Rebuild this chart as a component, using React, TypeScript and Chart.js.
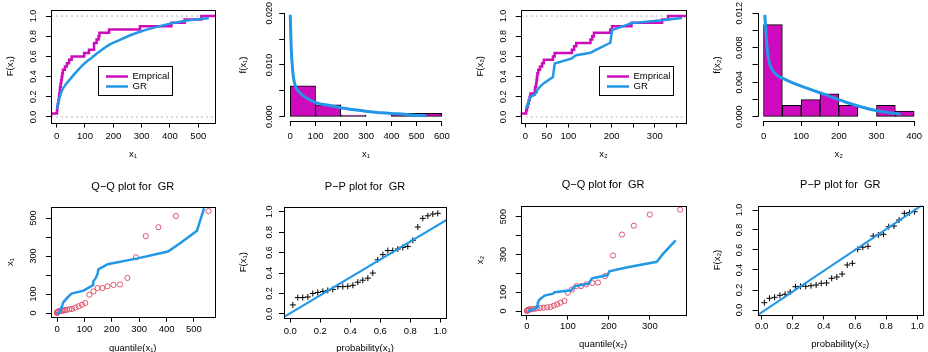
import React, { useEffect, useRef } from "react";
import { Chart, registerables } from "chart.js";

Chart.register(...registerables);

const FONT = "'Liberation Sans', Arial, Helvetica, sans-serif";
const MAGENTA = "#CD0BBC";
const BLUE = "#2297E6";
const RED = "#DF536B";
const GRAY = "#B3B3B3";
const TICK_LEN = 5;

// ---------------- data ----------------
const x1Sorted = [1, 2, 4, 6, 8, 9, 11, 12, 14, 16, 18, 20, 22, 29, 36, 44, 53, 97, 114, 132, 132, 141, 148, 151, 185, 294, 405, 452, 511, 537];
const x2Sorted = [2, 4, 6, 8, 10, 12, 22, 23, 25, 26, 27, 28, 30, 34, 39, 43, 64, 68, 108, 113, 118, 151, 155, 159, 197, 201, 246, 317, 331, 363];

const gr1CdfX = [1.5, 6, 10, 15, 20, 30, 40, 55, 75, 100, 125, 150, 185, 220, 260, 300, 350, 400, 450, 500, 537];
const gr1CdfY = [0.08, 0.15, 0.19, 0.235, 0.27, 0.315, 0.35, 0.4, 0.465, 0.535, 0.59, 0.645, 0.715, 0.76, 0.81, 0.85, 0.89, 0.925, 0.952, 0.968, 0.978];
const gr2CdfAtX2 = [0.08, 0.11, 0.13, 0.16, 0.18, 0.2, 0.22, 0.23, 0.245, 0.25, 0.26, 0.27, 0.28, 0.3, 0.32, 0.335, 0.395, 0.53, 0.58, 0.6, 0.612, 0.637, 0.645, 0.655, 0.735, 0.86, 0.93, 0.958, 0.965, 0.98];

const hist1Mid = [50, 150, 250, 350, 450, 550];
const hist1Density = [0.006, 0.002333, 0.000333, 0, 0.000667, 0.000667];
const hist2Mid = [25, 75, 125, 175, 225, 275, 325, 375];
const hist2Density = [0.010667, 0.001333, 0.002, 0.002667, 0.001333, 0, 0.001333, 0.000667];

const dens1X = [0, 2, 4, 8, 13, 20, 33, 53, 99, 165, 231, 297, 363, 429, 495, 538];
const dens1Y = [0.0197, 0.016, 0.0129, 0.0099, 0.0075, 0.006, 0.0049, 0.004, 0.0028, 0.0021, 0.0015, 0.0011, 0.00077, 0.00058, 0.00032, 0.0002];
const dens2X = [3.5, 7.8, 13, 21.7, 36.5, 54, 84, 128, 171, 215, 258, 302, 345, 364];
const dens2Y = [0.0118, 0.00888, 0.00674, 0.00557, 0.00479, 0.0044, 0.00382, 0.00312, 0.00245, 0.00175, 0.00117, 0.0007, 0.00043, 0.00031];

const qq1Theory = [0, 0.3, 0.8, 1.5, 3, 6, 12, 18, 24, 30, 36, 45, 55, 67, 79, 91, 103, 118, 133, 148, 166, 184, 206, 230, 257, 288, 324, 370, 434, 553];
const qq2Theory = [0.2, 0.8, 1.5, 3, 5, 9, 14, 19, 25, 33, 41, 49.5, 58, 66, 74, 82, 91.7, 100, 110, 121, 132, 145, 160, 173.5, 190.6, 210, 232, 261, 300, 374];

const ppProb = [0.017, 0.05, 0.083, 0.117, 0.15, 0.183, 0.217, 0.25, 0.283, 0.317, 0.35, 0.383, 0.417, 0.45, 0.483, 0.517, 0.55, 0.583, 0.617, 0.65, 0.683, 0.717, 0.75, 0.783, 0.817, 0.85, 0.883, 0.917, 0.95, 0.983];
const pp1F = [0.088, 0.16, 0.16, 0.166, 0.2, 0.21, 0.22, 0.23, 0.24, 0.267, 0.267, 0.27, 0.28, 0.31, 0.33, 0.35, 0.4, 0.53, 0.58, 0.62, 0.62, 0.635, 0.65, 0.66, 0.72, 0.85, 0.935, 0.96, 0.977, 0.984];
const pp2F = [0.073, 0.117, 0.127, 0.147, 0.157, 0.18, 0.233, 0.237, 0.237, 0.243, 0.25, 0.267, 0.27, 0.317, 0.33, 0.36, 0.45, 0.467, 0.607, 0.627, 0.637, 0.74, 0.75, 0.757, 0.833, 0.84, 0.9, 0.967, 0.973, 0.983];
const ppLine1X = [-0.1, 1.2];
const ppLine1Y = [-0.081, 1.058];
const ppLine2X = [-0.1, 1.2];
const ppLine2Y = [-0.128, 1.224];

const legendLabels = ["Emprical", "GR"];

// ---------------- ticks ----------------
const cdfTicks = [0, 0.2, 0.4, 0.6, 0.8, 1];
const cdfTickLabels = ["0.0", "0.2", "0.4", "0.6", "0.8", "1.0"];
const x1Ticks = [0, 100, 200, 300, 400, 500];
const x1TickLabels = ["0", "100", "200", "300", "400", "500"];
const hist1XTicks = [0, 100, 200, 300, 400, 500, 600];
const hist1XTickLabels = ["0", "100", "200", "300", "400", "500", "600"];
const hist1YTicks = [0, 0.005, 0.01, 0.015, 0.02];
const hist1YTickLabels = ["0.000", "", "0.010", "", "0.020"];
const x2Ticks = [0, 50, 100, 150, 200, 250, 300, 350];
const x2TickLabels = ["0", "50", "100", "", "200", "", "300", ""];
const hist2XTicks = [0, 100, 200, 300, 400];
const hist2XTickLabels = ["0", "100", "200", "300", "400"];
const hist2YTicks = [0, 0.002, 0.004, 0.006, 0.008, 0.01, 0.012];
const hist2YTickLabels = ["0.000", "", "0.004", "", "0.008", "", "0.012"];
const qqYTicks = [0, 100, 200, 300, 400, 500];
const qqYTickLabels = ["0", "100", "", "300", "", "500"];
const qq2XTicks = [0, 100, 200, 300];
const qq2XTickLabels = ["0", "100", "200", "300"];

// ---------------- helpers ----------------
const pts = (xs: number[], ys: number[]) => xs.map((x, i) => ({ x, y: ys[i] }));
const ecdf = (sorted: number[], lo: number, hi: number) => [
  { x: lo, y: 0 },
  ...sorted.map((v, i) => ({ x: v, y: (i + 1) / sorted.length })),
  { x: hi, y: 1 },
];
const lineDs = (data: any[], color: string, width: number, extra: any = {}) => ({
  type: "line",
  data,
  borderColor: color,
  backgroundColor: color,
  borderWidth: width,
  pointRadius: 0,
  fill: false,
  tension: 0,
  clip: 0,
  ...extra,
});
const dotted = (lo: number, hi: number, y: number) =>
  lineDs([{ x: lo, y }, { x: hi, y }], GRAY, 1, { borderDash: [2, 3] });
const barsDs = (mids: number[], dens: number[]) => ({
  type: "bar",
  data: mids.map((m, i) => ({ x: m, y: dens[i] > 0 ? dens[i] : null })),
  backgroundColor: MAGENTA,
  borderColor: "#000",
  borderWidth: 1,
  borderSkipped: false,
  barPercentage: 1,
  categoryPercentage: 1,
});
const circlesDs = (xs: number[], ys: number[]) => ({
  type: "line",
  data: pts(xs, ys),
  showLine: false,
  pointStyle: "circle",
  pointRadius: 2.6,
  pointBorderColor: RED,
  pointBackgroundColor: "rgba(0,0,0,0)",
  pointBorderWidth: 1,
  borderColor: RED,
});
const plusDs = (xs: number[], ys: number[]) => ({
  type: "line",
  data: pts(xs, ys),
  showLine: false,
  pointStyle: "cross",
  pointRadius: 3,
  pointBorderColor: "#000",
  pointBorderWidth: 1,
  borderColor: "#000",
});

const rAxesPlugin = {
  id: "rAxes",
  afterDatasetsDraw(chart: any, _a: any, o: any) {
    const { ctx, chartArea: a } = chart;
    const xs = chart.scales.x;
    const ys = chart.scales.y;
    ctx.save();
    ctx.strokeStyle = "#000";
    ctx.lineWidth = 1;
    if (o.box) {
      ctx.strokeRect(Math.round(a.left) + 0.5, Math.round(a.top) + 0.5, Math.round(a.right) - Math.round(a.left), Math.round(a.bottom) - Math.round(a.top));
    } else {
      const xt = xs.ticks;
      const yt = ys.ticks;
      const yb = Math.round(a.bottom) + 0.5;
      ctx.beginPath();
      ctx.moveTo(xs.getPixelForValue(xt[0].value), yb);
      ctx.lineTo(xs.getPixelForValue(xt[xt.length - 1].value), yb);
      ctx.stroke();
      const xl = Math.round(a.left) + 0.5;
      ctx.beginPath();
      ctx.moveTo(xl, ys.getPixelForValue(yt[0].value));
      ctx.lineTo(xl, ys.getPixelForValue(yt[yt.length - 1].value));
      ctx.stroke();
    }
    // rotated y tick labels (R style)
    ctx.fillStyle = "#000";
    ctx.font = `9px ${FONT}`;
    ctx.textAlign = "center";
    ctx.textBaseline = "middle";
    ys.ticks.forEach((t: any, i: number) => {
      const lab = o.yLabels[i];
      if (!lab) return;
      ctx.save();
      ctx.translate(o.yLabelX, ys.getPixelForValue(t.value));
      ctx.rotate(-Math.PI / 2);
      ctx.fillText(lab, 0, 0);
      ctx.restore();
    });
    if (o.legend) {
      const px = Math.round(xs.getPixelForValue(o.legend.x)) + 0.5;
      const py = Math.round(ys.getPixelForValue(o.legend.y)) + 0.5;
      const w = 74;
      const h = 29;
      ctx.fillStyle = "#fff";
      ctx.fillRect(px, py, w, h);
      ctx.strokeStyle = "#000";
      ctx.lineWidth = 1;
      ctx.strokeRect(px, py, w, h);
      const cols = [MAGENTA, BLUE];
      legendLabels.forEach((lab, i) => {
        const y = py + 10 + 10 * i;
        ctx.strokeStyle = cols[i];
        ctx.lineWidth = 2.5;
        ctx.beginPath();
        ctx.moveTo(px + 7.5, y);
        ctx.lineTo(px + 29.5, y);
        ctx.stroke();
        ctx.fillStyle = "#000";
        ctx.font = `9.5px ${FONT}`;
        ctx.textAlign = "left";
        ctx.textBaseline = "middle";
        ctx.fillText(lab, px + 34, y);
      });
    }
    ctx.restore();
  },
};

function buildConfig(s: any) {
  const g = s.g;
  const l = g.L - g.cx;
  const t = g.T - g.cy;
  const r = g.R - g.cx;
  const b = g.B - g.cy;
  const FS = 9.5;
  const font = { family: FONT, size: FS, lineHeight: 1 };
  const grid = { display: true, drawOnChartArea: false, drawTicks: true, tickLength: TICK_LEN, color: "#000", lineWidth: 1, offset: false };
  const tY = s.title ? s.titleY - g.cy : 0;
  return {
    type: s.kind,
    data: { datasets: s.datasets },
    options: {
      animation: false,
      responsive: false,
      maintainAspectRatio: false,
      devicePixelRatio: 1,
      events: [],
      layout: { padding: { left: 0, right: g.cw - r, top: s.title ? 0 : t, bottom: 0 } },
      plugins: {
        legend: { display: false },
        tooltip: { enabled: false },
        title: s.title
          ? {
              display: true,
              text: s.title,
              fullSize: false,
              color: "#000",
              font: { family: FONT, size: 11, weight: "normal", lineHeight: 1 },
              padding: { top: tY - 5.5, bottom: t - tY - 5.5 },
            }
          : { display: false },
        rAxes: { box: s.box, yLabels: s.yLabels, yLabelX: l - s.yTickOff, legend: s.legend || null },
      },
      scales: {
        x: {
          type: "linear",
          min: s.xr[0],
          max: s.xr[1],
          offset: false,
          afterBuildTicks: (sc: any) => {
            sc.ticks = s.xTicks.map((v: number) => ({ value: v }));
          },
          afterFit: (sc: any) => {
            sc.height = g.ch - b;
          },
          ticks: {
            autoSkip: false,
            maxRotation: 0,
            minRotation: 0,
            color: "#000",
            font,
            padding: s.xTickY - g.B - TICK_LEN - FS / 2,
            callback: (_v: any, i: number) => s.xLabels[i],
          },
          grid,
          border: { display: false },
          title: {
            display: true,
            text: s.xTitle,
            color: "#000",
            font,
            padding: { top: 0, bottom: g.ch - (s.xTitleY - g.cy) - FS / 2 },
          },
        },
        y: {
          type: "linear",
          min: s.yr[0],
          max: s.yr[1],
          afterBuildTicks: (sc: any) => {
            sc.ticks = s.yTicks.map((v: number) => ({ value: v }));
          },
          afterFit: (sc: any) => {
            sc.width = l;
          },
          ticks: { display: false },
          grid,
          border: { display: false },
          title: {
            display: true,
            text: s.yTitle,
            color: "#000",
            font,
            padding: { top: l - 40.5 - FS / 2, bottom: 0 },
          },
        },
      },
    },
    plugins: [rAxesPlugin],
  };
}

// ---------------- panels ----------------
const p1X = [-20, 559];
const p3X = [-10.7, 373];
const cdfY = [-0.055, 1.06];

const specs: any[] = [
  {
    kind: "line",
    g: { cx: 0, cy: 0, cw: 232, ch: 170, L: 51, T: 10, R: 215, B: 122.5 },
    xr: p1X, yr: cdfY,
    xTicks: x1Ticks, xLabels: x1TickLabels, yTicks: cdfTicks, yLabels: cdfTickLabels,
    xTitle: "x₁", yTitle: "F(x₁)", xTickY: 136.5, xTitleY: 154, yTickOff: 17.7, box: true,
    legend: { x: 145, y: 0.503 },
    datasets: [
      lineDs(pts(gr1CdfX, gr1CdfY), BLUE, 2.5, { cubicInterpolationMode: "monotone" }),
      lineDs(ecdf(x1Sorted, p1X[0], p1X[1]), MAGENTA, 2.5, { stepped: "after" }),
      dotted(p1X[0], p1X[1], 0),
      dotted(p1X[0], p1X[1], 1),
    ],
  },
  {
    kind: "bar",
    g: { cx: 232, cy: 0, cw: 232, ch: 170, L: 284.2, T: 9, R: 448, B: 121 },
    xr: [-24, 624], yr: [-0.0008, 0.0208],
    xTicks: hist1XTicks, xLabels: hist1XTickLabels, yTicks: hist1YTicks, yLabels: hist1YTickLabels,
    xTitle: "x₁", yTitle: "f(x₁)", xTickY: 136.5, xTitleY: 154, yTickOff: 14.2, box: false,
    datasets: [
      lineDs(pts(dens1X, dens1Y), BLUE, 3, { cubicInterpolationMode: "monotone" }),
      barsDs(hist1Mid, hist1Density),
    ],
  },
  {
    kind: "line",
    g: { cx: 464, cy: 0, cw: 232, ch: 170, L: 520.7, T: 10, R: 686.3, B: 122.5 },
    xr: p3X, yr: cdfY,
    xTicks: x2Ticks, xLabels: x2TickLabels, yTicks: cdfTicks, yLabels: cdfTickLabels,
    xTitle: "x₂", yTitle: "F(x₂)", xTickY: 136.5, xTitleY: 154, yTickOff: 17.4, box: true,
    legend: { x: 171, y: 0.505 },
    datasets: [
      lineDs(pts(x2Sorted, gr2CdfAtX2), BLUE, 2.5),
      lineDs(ecdf(x2Sorted, p3X[0], p3X[1]), MAGENTA, 2.5, { stepped: "after" }),
      dotted(p3X[0], p3X[1], 0),
      dotted(p3X[0], p3X[1], 1),
    ],
  },
  {
    kind: "bar",
    g: { cx: 696, cy: 0, cw: 232, ch: 170, L: 757.5, T: 9, R: 923.3, B: 121 },
    xr: [-16, 416], yr: [-0.00048, 0.01248],
    xTicks: hist2XTicks, xLabels: hist2XTickLabels, yTicks: hist2YTicks, yLabels: hist2YTickLabels,
    xTitle: "x₂", yTitle: "f(x₂)", xTickY: 136.5, xTitleY: 154, yTickOff: 18.2, box: false,
    datasets: [
      lineDs(pts(dens2X, dens2Y), BLUE, 3, { cubicInterpolationMode: "monotone" }),
      barsDs(hist2Mid, hist2Density),
    ],
  },
  {
    kind: "line",
    g: { cx: 0, cy: 170, cw: 232, ch: 182, L: 51, T: 207, R: 214.5, B: 316.8 },
    xr: [-22, 575], yr: [-19.4, 558.4],
    xTicks: x1Ticks, xLabels: x1TickLabels, yTicks: qqYTicks, yLabels: qqYTickLabels,
    xTitle: "quantile(x₁)", yTitle: "x₁", xTickY: 329, xTitleY: 348.3, yTickOff: 17.7, box: true,
    title: "Q−Q plot for  GR", titleY: 187.3,
    datasets: [
      lineDs(pts(x1Sorted, qq1Theory), BLUE, 2.5),
      circlesDs(qq1Theory, x1Sorted),
    ],
  },
  {
    kind: "line",
    g: { cx: 232, cy: 170, cw: 232, ch: 182, L: 284, T: 207, R: 446, B: 317.5 },
    xr: [-0.042, 1.038], yr: [-0.035, 1.046],
    xTicks: cdfTicks, xLabels: cdfTickLabels, yTicks: cdfTicks, yLabels: cdfTickLabels,
    xTitle: "probability(x₁)", yTitle: "F(x₁)", xTickY: 331.7, xTitleY: 348.3, yTickOff: 14, box: true,
    title: "P−P plot for  GR", titleY: 187.3,
    datasets: [
      lineDs(pts(ppLine1X, ppLine1Y), BLUE, 2),
      plusDs(ppProb, pp1F),
    ],
  },
  {
    kind: "line",
    g: { cx: 464, cy: 170, cw: 232, ch: 182, L: 520.7, T: 205.6, R: 685.5, B: 314.7 },
    xr: [-15, 387], yr: [-19.4, 558.4],
    xTicks: qq2XTicks, xLabels: qq2XTickLabels, yTicks: qqYTicks, yLabels: qqYTickLabels,
    xTitle: "quantile(x₂)", yTitle: "x₂", xTickY: 326.7, xTitleY: 344, yTickOff: 17.4, box: true,
    title: "Q−Q plot for  GR", titleY: 185,
    datasets: [
      lineDs(pts(x2Sorted, qq2Theory), BLUE, 2.5),
      circlesDs(qq2Theory, x1Sorted),
    ],
  },
  {
    kind: "line",
    g: { cx: 696, cy: 170, cw: 232, ch: 182, L: 757.5, T: 205.5, R: 923.5, B: 314.5 },
    xr: [-0.027, 1.037], yr: [-0.045, 1.045],
    xTicks: cdfTicks, xLabels: cdfTickLabels, yTicks: cdfTicks, yLabels: cdfTickLabels,
    xTitle: "probability(x₂)", yTitle: "F(x₂)", xTickY: 326.7, xTitleY: 344, yTickOff: 18.2, box: true,
    title: "P−P plot for  GR", titleY: 185,
    datasets: [
      lineDs(pts(ppLine2X, ppLine2Y), BLUE, 2),
      plusDs(ppProb, pp2F),
    ],
  },
];

function Panel({ spec }: { spec: any }) {
  const ref = useRef<HTMLCanvasElement | null>(null);
  useEffect(() => {
    if (!ref.current) return;
    const chart = new Chart(ref.current, buildConfig(spec) as any);
    return () => chart.destroy();
  }, [spec]);
  const g = spec.g;
  return (
    <canvas
      ref={ref}
      width={g.cw}
      height={g.ch}
      style={{ position: "absolute", left: g.cx, top: g.cy, width: g.cw, height: g.ch }}
    />
  );
}

export default function App() {
  return (
    <div style={{ position: "absolute", left: 0, top: 0, width: 928, height: 352, background: "#fff", overflow: "hidden" }}>
      {specs.map((s, i) => (
        <Panel key={i} spec={s} />
      ))}
    </div>
  );
}
